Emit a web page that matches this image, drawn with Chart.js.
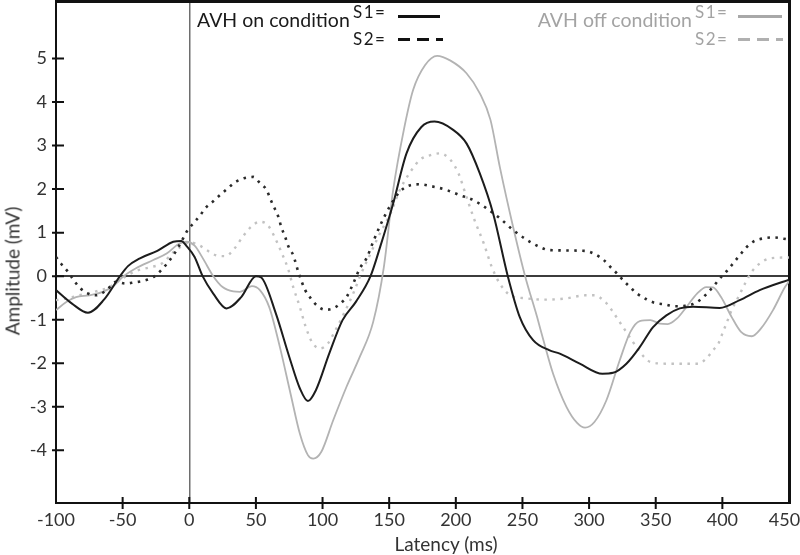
<!DOCTYPE html>
<html><head><meta charset="utf-8">
<script src="https://cdn.jsdelivr.net/npm/chart.js@4/dist/chart.umd.min.js"></script>
<style>
body{margin:0;background:#fff;}
#wrap{position:relative;width:800px;height:555px;font-family:Lato,"Open Sans",sans-serif;overflow:hidden;}
canvas{position:absolute;left:0;top:0;}
.t{position:absolute;white-space:nowrap;line-height:1;}
.s{letter-spacing:1.5px;}
.ln{position:absolute;height:2.5px;}
</style></head><body>
<div id="wrap">
<canvas id="c" width="800" height="555"></canvas>
<div class="t" style="font-size:19px;color:#333;left:12px;top:271px;transform:translate(-50%,-50%) rotate(-90deg);">Amplitude (mV)</div>
<div class="t" style="font-size:19px;color:#333;left:446px;top:543px;transform:translate(-50%,-50%);">Latency (ms)</div>
<div class="t" style="font-size:19.5px;color:#1a1a1a;left:197px;top:9.7px;">AVH on condition</div>
<div class="t s" style="font-size:17px;color:#1a1a1a;left:353px;top:3px;">S1=</div>
<div class="t s" style="font-size:17px;color:#1a1a1a;left:353px;top:30px;">S2=</div>
<div class="ln" style="left:398px;top:15px;width:42px;background:#111;"></div>
<div class="ln" style="left:398px;top:38px;width:45px;background:repeating-linear-gradient(to right,#111 0 12px,transparent 12px 19px);"></div>
<div class="t" style="font-size:19.5px;color:#a3a3a3;right:108px;top:9.7px;">AVH off condition</div>
<div class="t s" style="font-size:17px;color:#a3a3a3;left:695px;top:3px;">S1=</div>
<div class="t s" style="font-size:17px;color:#a3a3a3;left:695px;top:30px;">S2=</div>
<div class="ln" style="left:738px;top:15px;width:44px;background:#a8a8a8;"></div>
<div class="ln" style="left:738px;top:38px;width:45px;background:repeating-linear-gradient(to right,#b0b0b0 0 12px,transparent 12px 19px);"></div>
</div>
<script>
// Latency (ms) / amplitude (mV)
const s1OnX = [-100,-88,-76,-64,-52,-46,-37,-24,-12,-6,-2,4,10,18,28,39,50,54,65,75,83,89,95,105,115,125,136,143,153,163,174,184,198,208,218,228,239,248,258,270,278,293,310,318,328,338,348,358,368,378,398,413,428,450];
const s1OnY = [-0.32,-0.63,-0.84,-0.54,0,0.23,0.41,0.58,0.79,0.81,0.69,0.44,0,-0.4,-0.74,-0.48,0,-0.03,-0.86,-1.85,-2.58,-2.87,-2.62,-1.78,-1.01,-0.59,0,0.65,1.67,2.82,3.42,3.55,3.36,3.05,2.36,1.44,0,-0.94,-1.47,-1.7,-1.78,-2.01,-2.24,-2.22,-2.01,-1.63,-1.17,-0.9,-0.74,-0.7,-0.73,-0.55,-0.32,-0.08];

const s2OnX = [-100,-96,-91,-87,-82,-76,-70,-62,-55,-48,-41,-35,-27,-21,-12,-6,-2,3,8,12,18,23,29,34,41,48,53,58,61,64,67,69,72,74,78,82,87,92,96,102,108,114,118,123,128,133,138,143,151,158,166,173,181,193,203,213,223,233,243,253,263,270,297,304,311,316,321,326,331,336,343,349,357,364,372,378,384,389,394,399,404,408,413,418,423,431,438,450];
const s2OnY = [0.44,0.28,0.1,-0.08,-0.27,-0.4,-0.44,-0.32,-0.13,-0.17,-0.14,-0.11,-0.02,0.14,0.48,0.79,1.02,1.21,1.39,1.56,1.72,1.86,2.02,2.15,2.25,2.28,2.14,1.98,1.76,1.56,1.35,1.13,0.9,0.71,0.48,0.08,-0.32,-0.54,-0.68,-0.77,-0.74,-0.61,-0.48,-0.17,0.18,0.41,0.79,1.15,1.63,1.94,2.09,2.11,2.07,1.98,1.86,1.75,1.56,1.33,1.06,0.84,0.67,0.6,0.58,0.51,0.37,0.21,0.06,-0.11,-0.26,-0.4,-0.53,-0.61,-0.65,-0.69,-0.68,-0.64,-0.53,-0.38,-0.21,-0.02,0.14,0.29,0.48,0.66,0.79,0.87,0.89,0.84];

const s1OffX = [-100,-92,-85,-75,-65,-57,-50,-40,-27,-17,-8,-2,4,10,18,25,33,38,47,53,60,68,76,83,89,93,99,108,118,128,138,146,153,161,168,177,186,196,208,218,226,233,243,252,261,266,273,283,291,297,304,313,323,331,338,346,353,359,366,373,381,388,393,399,407,414,422,429,438,447,450];
const s1OffY = [-0.78,-0.59,-0.48,-0.44,-0.36,-0.23,-0.02,0.18,0.37,0.52,0.74,0.79,0.7,0.42,0,-0.25,-0.35,-0.36,-0.23,-0.32,-0.71,-1.63,-2.7,-3.62,-4.11,-4.19,-4.04,-3.31,-2.54,-1.85,-1.05,0.21,1.98,3.36,4.28,4.85,5.06,4.95,4.66,4.2,3.59,2.51,1.13,0,-0.94,-1.5,-2.24,-3,-3.37,-3.48,-3.35,-2.85,-1.93,-1.28,-1.03,-1.01,-1.09,-1.1,-0.97,-0.71,-0.4,-0.25,-0.26,-0.48,-0.94,-1.28,-1.38,-1.2,-0.78,-0.25,-0.12];

const s2OffX = [-100,-90,-80,-70,-60,-50,-40,-30,-20,-12,-4,0,8,13,20,27,33,40,47,53,59,64,69,74,78,83,87,92,98,104,109,116,123,129,136,142,151,158,166,173,181,188,196,202,208,214,221,227,233,241,253,266,283,297,304,312,317,322,327,332,338,346,358,373,382,388,393,397,400,403,407,412,417,422,428,436,450];
const s2OffY = [-0.55,-0.5,-0.42,-0.35,-0.25,-0.05,0.12,0.2,0.3,0.55,0.72,0.78,0.7,0.6,0.48,0.46,0.6,0.9,1.15,1.25,1.17,0.9,0.56,0.18,-0.25,-0.71,-1.13,-1.51,-1.66,-1.55,-1.28,-0.86,-0.4,0.06,0.52,0.92,1.44,1.98,2.4,2.67,2.78,2.82,2.67,2.36,1.82,1.29,0.75,0.21,-0.17,-0.44,-0.51,-0.54,-0.51,-0.44,-0.44,-0.59,-0.78,-1.01,-1.24,-1.47,-1.74,-1.97,-2.01,-2.01,-2.01,-1.89,-1.7,-1.55,-1.32,-1.09,-0.78,-0.48,-0.17,0.1,0.29,0.41,0.43];

const yTickValues = [-4,-3,-2,-1,0,1,2,3,4,5];
const xTickMarkValues = [-50,0,50,100,150,200,250,300,350,400];

const pts = (xs, ys) => xs.map((x, i) => ({x, y: ys[i]}));
const noPad = s => { s.paddingLeft = 0; s.paddingRight = 0; s.paddingTop = 0; s.paddingBottom = 0; };

const tickMarkPlugin = {
  id: 'tickMarks',
  afterDraw(chart) {
    const {ctx, chartArea: a} = chart;
    const x = chart.scales.x, y = chart.scales.y;
    ctx.save();
    ctx.setLineDash([]);
    ctx.strokeStyle = '#111';
    ctx.lineWidth = 2;
    ctx.beginPath();
    yTickValues.forEach(v => { const p = y.getPixelForValue(v); ctx.moveTo(a.left - 4, p); ctx.lineTo(a.left + 8, p); });
    xTickMarkValues.forEach(v => { const p = x.getPixelForValue(v); ctx.moveTo(p, a.bottom - 6); ctx.lineTo(p, a.bottom + 6); });
    ctx.stroke();
    ctx.restore();
  }
};

const tickFont = {family: 'Lato', size: 18};
const frameBorder = {display: true, color: '#111', width: 2};
const outerBorder = {display: true, color: '#111', width: 3};

new Chart(document.getElementById('c'), {
  type: 'line',
  data: {
    datasets: [
      {label: 'AVH on S1', data: pts(s1OnX, s1OnY), borderColor: '#1c1c1c', borderWidth: 2},
      {label: 'AVH on S2', data: pts(s2OnX, s2OnY), borderColor: '#2a2a2a', borderWidth: 2.6, borderDash: [2.5, 5.5]},
      {label: 'AVH off S1', data: pts(s1OffX, s1OffY), borderColor: '#b3b3b3', borderWidth: 1.8},
      {label: 'AVH off S2', data: pts(s2OffX, s2OffY), borderColor: '#c2c2c2', borderWidth: 2.4, borderDash: [2.5, 5.5]}
    ]
  },
  options: {
    responsive: false,
    animation: false,
    layout: {padding: 0},
    elements: {point: {radius: 0}, line: {cubicInterpolationMode: 'monotone', fill: false}},
    plugins: {legend: {display: false}, tooltip: {enabled: false}},
    scales: {
      x: {
        type: 'linear', position: 'bottom', min: -100, max: 450,
        afterFit(s) { s.height = 52; noPad(s); },
        ticks: {stepSize: 50, autoSkip: false, maxRotation: 0, padding: 6, color: '#333', font: tickFont,
          callback: v => v === 450 ? '450\u2002' : String(v)},
        grid: {drawTicks: false, lineWidth: 1.5, color: c => (c.tick && c.tick.value === 0) ? '#6e6e6e' : 'rgba(0,0,0,0)'},
        border: frameBorder
      },
      xTop: {
        type: 'linear', position: 'top', min: -100, max: 450,
        afterFit(s) { s.height = 1; noPad(s); },
        ticks: {display: false},
        grid: {display: false, drawTicks: false},
        border: outerBorder
      },
      y: {
        type: 'linear', position: 'left', min: -5.21, max: 6.32,
        afterFit(s) { s.width = 56; noPad(s); },
        afterBuildTicks(s) { s.ticks = yTickValues.map(v => ({value: v})); },
        ticks: {padding: 9, color: '#333', font: tickFont},
        grid: {drawTicks: false, lineWidth: 2, color: c => (c.tick && c.tick.value === 0) ? '#3c3c3c' : 'rgba(0,0,0,0)'},
        border: frameBorder
      },
      yRight: {
        type: 'linear', position: 'right', min: -5.21, max: 6.32,
        afterFit(s) { s.width = 11; noPad(s); },
        ticks: {display: false},
        grid: {display: false, drawTicks: false},
        border: outerBorder
      }
    }
  },
  plugins: [tickMarkPlugin]
});
</script>
</body></html>
